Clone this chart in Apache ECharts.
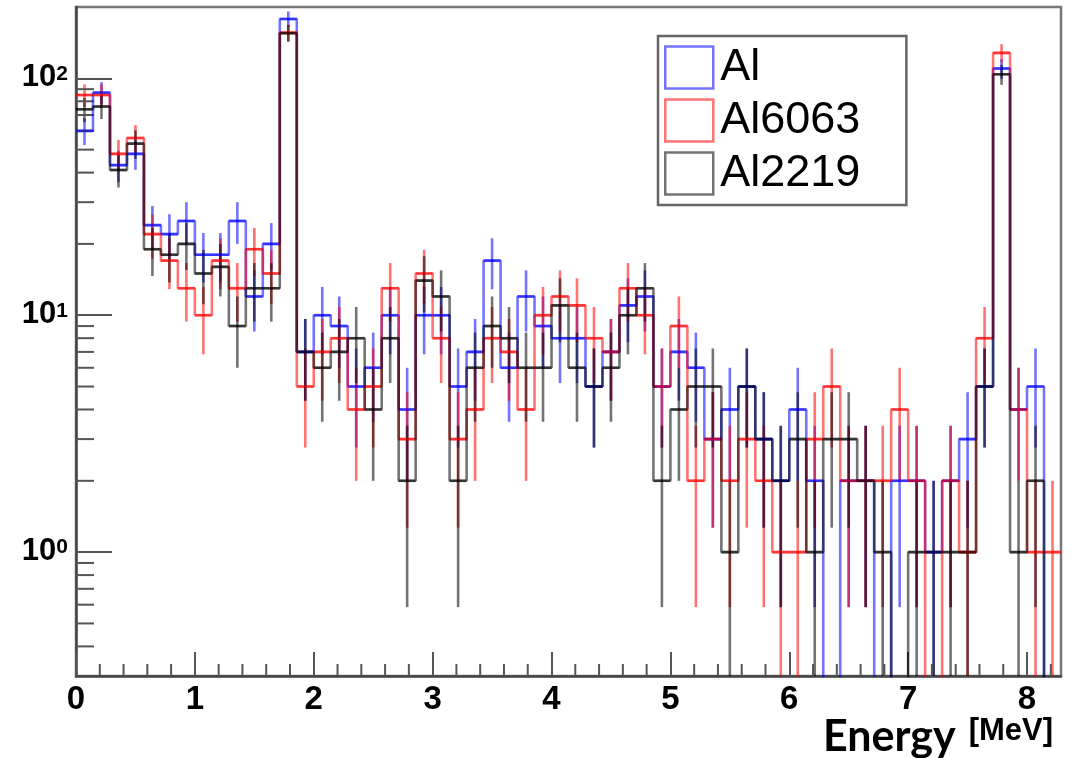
<!DOCTYPE html>
<html><head><meta charset="utf-8">
<script src="https://cdn.jsdelivr.net/npm/echarts@6/dist/echarts.min.js"></script>
<style>html,body{margin:0;padding:0;background:#fff}#c{width:1089px;height:758px}</style>
</head><body><div id="c"></div>
<script>
// ---- data ----
const BIN_WIDTH = 1 / 7;      // MeV
const N_BINS = 58;            // 0 .. 58/7 MeV
const seriesNames = ['Al', 'Al6063', 'Al2219'];
const alCounts = [60, 87, 43, 48, 24, 22, 25, 18, 18, 25, 12, 20, 178, 7, 10, 9, 5, 6, 10, 4,
  10, 10, 5, 7, 17, 6, 12, 9, 8, 8, 5, 7, 11, 12, 5, 7, 6, 3, 4, 5,
  3, 2, 4, 2, 0, 2, 2, 0, 2, 2, 1, 2, 3, 5, 110, 4, 5, 0];
const al6063Counts = [85, 85, 48, 56, 22, 17, 13, 10, 17, 13, 19, 15, 156, 5, 7, 8, 4, 5, 13, 3,
  15, 8, 3, 4, 8, 7, 4, 10, 12, 11, 8, 7, 13, 10, 5, 9, 2, 3, 2, 3,
  2, 1, 1, 3, 5, 2, 2, 2, 4, 2, 0, 2, 1, 8, 128, 4, 1, 1];
const al2219Counts = [74, 76, 41, 53, 19, 18, 20, 15, 16, 9, 13, 13, 155, 7, 6, 7, 8, 4, 8, 2,
  14, 12, 2, 6, 9, 8, 6, 6, 11, 6, 5, 6, 10, 13, 2, 4, 5, 5, 1, 5,
  3, 2, 3, 1, 3, 3, 2, 1, 0, 1, 1, 1, 1, 5, 104, 1, 2, 0];
const xTickLabels = ['0', '1', '2', '3', '4', '5', '6', '7', '8'];
const yMinorTicks = [0.4, 0.5, 0.6, 0.7, 0.8, 0.9, 2, 3, 4, 5, 6, 7, 8, 9, 20, 30, 40, 50, 60, 70, 80, 90];
const xMinorStep = 0.2;

const rgb = { 'Al': '0,0,255', 'Al6063': '255,0,0', 'Al2219': '0,0,0' };
const countsByName = { 'Al': alCounts, 'Al6063': al6063Counts, 'Al2219': al2219Counts };

const X_MAX = N_BINS * BIN_WIDTH;
const Y_MIN = 0.3, Y_MAX = 200;
const LW = 2.6;

const xMinorTicks = [];
for (let v = xMinorStep; v < X_MAX - 1e-6; v += xMinorStep) {
  const r = Math.round(v * 10) / 10;
  if (Math.abs(r - Math.round(r)) > 1e-6) xMinorTicks.push(r);
}

function stepData(counts) {
  const d = counts.map((c, k) => [k * BIN_WIDTH, c > 0 ? c : 1e-3]);
  const last = counts[counts.length - 1];
  d.push([counts.length * BIN_WIDTH, last > 0 ? last : 1e-3]);
  return d;
}

function errData(counts) {
  const d = [];
  counts.forEach((c, k) => { if (c > 0) d.push([(k + 0.5) * BIN_WIDTH, c, k]); });
  return d;
}

function errRender(color) {
  return function (params, api) {
    const cs = params.coordSys;
    const k = api.value(2), v = api.value(1);
    const s = Math.sqrt(v);
    const xl = api.coord([k * BIN_WIDTH, v])[0];
    const xr = api.coord([(k + 1) * BIN_WIDTH, v])[0];
    const xc = api.coord([(k + 0.5) * BIN_WIDTH, v])[0];
    const y = api.coord([(k + 0.5) * BIN_WIDTH, v])[1];
    let yHi = api.coord([(k + 0.5) * BIN_WIDTH, v + s])[1];
    let yLo = (v - s) > 1e-9 ? api.coord([(k + 0.5) * BIN_WIDTH, v - s])[1] : cs.y + cs.height;
    yHi = Math.max(yHi, cs.y);
    yLo = Math.min(yLo, cs.y + cs.height);
    const style = { stroke: color, lineWidth: LW };
    return {
      type: 'group', children: [
        { type: 'line', shape: { x1: xl, y1: y, x2: xr, y2: y }, style: style },
        { type: 'line', shape: { x1: xc, y1: yHi, x2: xc, y2: yLo }, style: style }
      ]
    };
  };
}

const series = [];
seriesNames.forEach(name => {
  const col = 'rgba(' + rgb[name] + ',0.55)';
  series.push({
    name: name, type: 'line', step: 'end', symbol: 'none', clip: true,
    data: stepData(countsByName[name]),
    lineStyle: { color: col, width: LW }, itemStyle: { color: col },
    emphasis: { disabled: true }, silent: true
  });
  series.push({
    name: name + ' err', type: 'custom', silent: true,
    data: errData(countsByName[name]),
    encode: { x: 0, y: 1 },
    renderItem: errRender(col)
  });
});
// minor ticks (ROOT-like)
series.push({
  type: 'custom', silent: true, data: yMinorTicks.map(v => [0.0001, v]), encode: { x: 0, y: 1 },
  renderItem: function (params, api) {
    const cs = params.coordSys;
    const y = api.coord([0, api.value(1)])[1];
    return { type: 'line', shape: { x1: cs.x, y1: y, x2: cs.x + 18, y2: y }, style: { stroke: '#555', lineWidth: 2 } };
  }
});
series.push({
  type: 'custom', silent: true, data: xMinorTicks.map(v => [v, 1]), encode: { x: 0, y: 1 },
  renderItem: function (params, api) {
    const cs = params.coordSys;
    const x = api.coord([api.value(0), 1])[0];
    const yb = cs.y + cs.height;
    return { type: 'line', shape: { x1: x, y1: yb, x2: x, y2: yb - 12 }, style: { stroke: '#555', lineWidth: 2 } };
  }
});

const chart = echarts.init(document.getElementById('c'), null, { renderer: 'canvas' });
chart.setOption({
  animation: false,
  backgroundColor: '#fff',
  grid: {
    left: 76, right: 28, top: 7, bottom: 82, show: true, borderColor: '#777', borderWidth: 2.5,
    backgroundColor: 'transparent', containLabel: false, outerBoundsMode: 'none'
  },
  legend: {
    data: seriesNames.map(n => ({
      name: n, icon: 'rect',
      itemStyle: { color: 'rgba(255,255,255,0)', borderColor: 'rgba(' + rgb[n] + ',0.55)', borderWidth: 2.5 }
    })),
    orient: 'vertical', left: 658, top: 36,
    itemWidth: 48, itemHeight: 42, itemGap: 8,
    padding: [9, 46, 9, 6],
    backgroundColor: '#fff', borderColor: '#666', borderWidth: 2.5,
    selectedMode: false,
    textStyle: { fontFamily: 'Liberation Sans, Arial, sans-serif', fontSize: 45, lineHeight: 44, color: '#000', padding: [0, 0, 0, 2] }
  },
  xAxis: {
    type: 'value', min: 0, max: X_MAX, interval: 1,
    axisLine: { show: true, onZero: false, lineStyle: { color: '#444', width: 2.5 } },
    axisTick: { show: true, inside: true, length: 24, lineStyle: { color: '#555', width: 2 } },
    splitLine: { show: false },
    axisLabel: {
      showMaxLabel: false, margin: 7, color: '#000',
      fontFamily: 'Liberation Sans Narrow, Arial Narrow, Liberation Sans, sans-serif',
      fontWeight: 'bold', fontSize: 33,
      formatter: v => { const i = Math.round(v); return Math.abs(v - i) < 1e-6 && xTickLabels[i] !== undefined ? xTickLabels[i] : ''; }
    },
    name: '{e|Energy}{u|[MeV]}',
    nameLocation: 'end', nameGap: -238, nameMoveOverlap: false,
    nameTextStyle: {
      align: 'left', verticalAlign: 'top', padding: [40, 0, 0, 0],
      rich: {
        e: { fontFamily: 'Lato, sans-serif', fontWeight: 'bold', fontSize: 43, color: '#000', verticalAlign: 'bottom', padding: [0, 13, 0, 0] },
        u: { fontFamily: 'Liberation Sans, sans-serif', fontWeight: 'bold', fontSize: 31, color: '#000', verticalAlign: 'top' }
      }
    }
  },
  yAxis: {
    type: 'log', logBase: 10, min: Y_MIN, max: Y_MAX,
    axisLine: { show: true, lineStyle: { color: '#444', width: 2.5 } },
    axisTick: { show: true, inside: true, length: 36, lineStyle: { color: '#555', width: 2 } },
    splitLine: { show: false }, minorTick: { show: false },
    axisLabel: {
      showMinLabel: false, showMaxLabel: false, margin: 8,
      formatter: v => '{b|10}{s|' + Math.round(Math.log10(v)) + '}',
      rich: {
        b: { fontFamily: 'Liberation Sans, Arial, sans-serif', fontWeight: 'bold', fontSize: 31, color: '#000', verticalAlign: 'bottom', lineHeight: 30 },
        s: { fontFamily: 'Liberation Sans, Arial, sans-serif', fontWeight: 'bold', fontSize: 21, color: '#000', verticalAlign: 'top', lineHeight: 20 }
      }
    }
  },
  series: series
});
</script>
</body></html>
